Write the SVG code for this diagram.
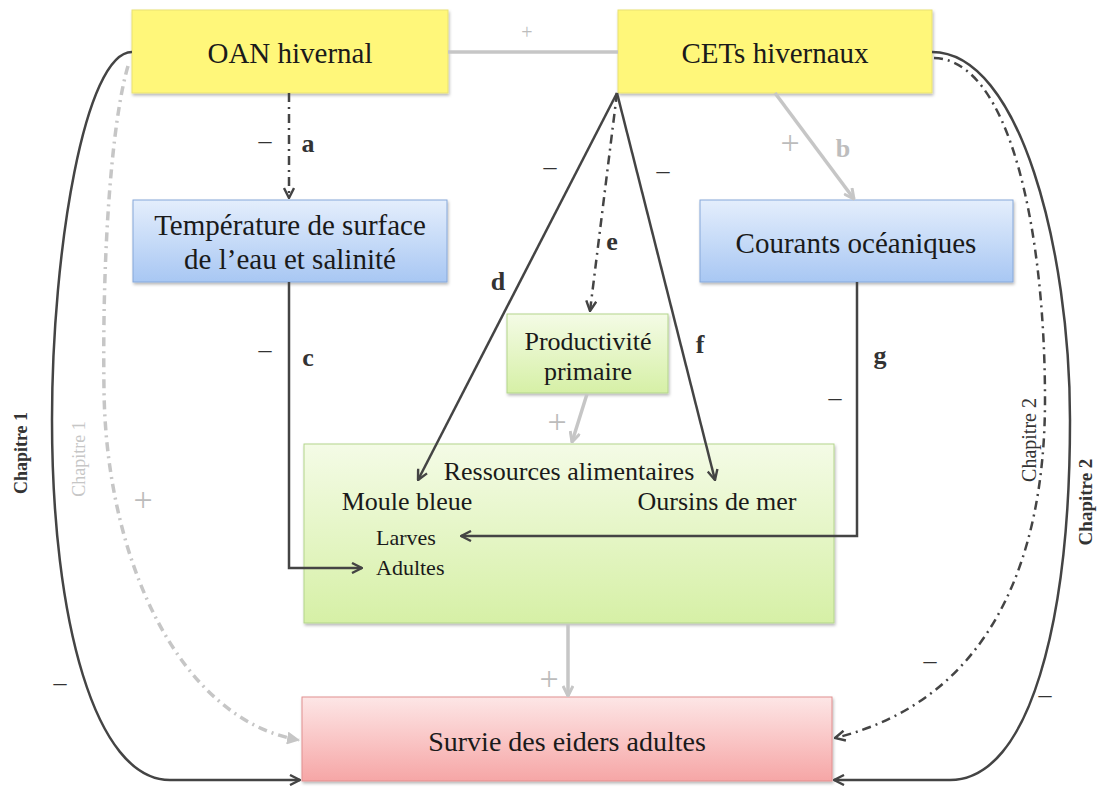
<svg xmlns="http://www.w3.org/2000/svg" width="1099" height="789" viewBox="0 0 1099 789">
<defs>
<style>
.t{font-family:"Liberation Serif","Times New Roman",serif;fill:#1a1a1a;text-anchor:middle}
.lbl{font-family:"Liberation Serif","Times New Roman",serif;font-weight:bold;font-size:26px;fill:#333;text-anchor:middle}
.minus{font-family:"Liberation Serif","Times New Roman",serif;font-size:26px;fill:#333;text-anchor:middle}
.plus{font-family:"Liberation Serif","Times New Roman",serif;fill:#bcbcbc;text-anchor:middle}
.ln{fill:none;stroke:#444;stroke-width:2.5}
.gl{fill:none;stroke:#c6c6c6;stroke-width:3.5}
.dd{stroke-dasharray:9 5 2 5}
.box{stroke-width:1}
</style>
<filter id="sh" x="-5%" y="-10%" width="110%" height="125%">
<feDropShadow dx="1" dy="2" stdDeviation="1.5" flood-color="#000" flood-opacity="0.28"/>
</filter>
<linearGradient id="gBlue" x1="0" y1="0" x2="0" y2="1"><stop offset="0" stop-color="#e4eefc"/><stop offset="1" stop-color="#a8c7f3"/></linearGradient>
<linearGradient id="gGreen" x1="0" y1="0" x2="0" y2="1"><stop offset="0" stop-color="#f4fbe6"/><stop offset="1" stop-color="#d6f0a6"/></linearGradient>
<linearGradient id="gRed" x1="0" y1="0" x2="0" y2="1"><stop offset="0" stop-color="#fde6e6"/><stop offset="1" stop-color="#f6a6a6"/></linearGradient>
<marker id="ah" viewBox="0 0 12 12" refX="11" refY="6" markerWidth="12" markerHeight="12" markerUnits="userSpaceOnUse" orient="auto"><path d="M1,1 L11,6 L1,11" fill="none" stroke="#444" stroke-width="2.4"/></marker>
<marker id="ahg" viewBox="0 0 12 12" refX="11" refY="6" markerWidth="12" markerHeight="12" markerUnits="userSpaceOnUse" orient="auto"><path d="M1,1 L11,6 L1,11" fill="none" stroke="#c6c6c6" stroke-width="3"/></marker>
<marker id="ahgf" viewBox="0 0 12 12" refX="11" refY="6" markerWidth="13" markerHeight="13" markerUnits="userSpaceOnUse" orient="auto"><path d="M0,0 L12,6 L0,12 z" fill="#c6c6c6"/></marker>
</defs>
<rect width="1099" height="789" fill="#ffffff"/>

<g id="oan">
<rect x="132" y="10" width="316" height="83" fill="#fff77a" stroke="#e9e173" class="box" filter="url(#sh)"/>
<text class="t" x="290" y="63" font-size="29">OAN hivernal</text>
</g>
<g id="cets">
<rect x="618" y="10" width="314" height="83" fill="#fff77a" stroke="#e9e173" class="box" filter="url(#sh)"/>
<text class="t" x="775" y="63" font-size="29">CETs hivernaux</text>
</g>
<g id="temperature">
<rect x="133" y="200" width="314" height="82" fill="url(#gBlue)" stroke="#86a8da" class="box" filter="url(#sh)"/>
<text class="t" x="290" y="235" font-size="29">Température de surface</text>
<text class="t" x="290" y="269" font-size="29">de l’eau et salinité</text>
</g>
<g id="courants">
<rect x="700" y="200" width="313" height="82" fill="url(#gBlue)" stroke="#86a8da" class="box" filter="url(#sh)"/>
<text class="t" x="856" y="253" font-size="29">Courants océaniques</text>
</g>
<g id="productivite">
<rect x="507" y="314" width="161" height="79" fill="url(#gGreen)" stroke="#b3d58c" class="box" filter="url(#sh)"/>
<text class="t" x="588" y="350" font-size="26">Productivité</text>
<text class="t" x="588" y="380" font-size="26">primaire</text>
</g>
<g id="ressources">
<rect x="304" y="444" width="530" height="179" fill="url(#gGreen)" stroke="#b3d58c" class="box" filter="url(#sh)"/>
<text class="t" x="569" y="480" font-size="26">Ressources alimentaires</text>
<text class="t" x="407" y="510" font-size="26">Moule bleue</text>
<text class="t" x="717" y="510" font-size="26">Oursins de mer</text>
<text class="t" x="376" y="545" font-size="22" style="text-anchor:start">Larves</text>
<text class="t" x="376" y="575" font-size="22" style="text-anchor:start">Adultes</text>
</g>
<g id="survie">
<rect x="302" y="697" width="530" height="84" fill="url(#gRed)" stroke="#e28f8f" class="box" filter="url(#sh)"/>
<text class="t" x="567" y="751" font-size="28">Survie des eiders adultes</text>
</g>

<g id="connectors">
<path class="gl" d="M448,52 L618,52" stroke-width="4"/>
<path class="ln dd" d="M289,93 L289,198" marker-end="url(#ah)"/>
<path class="gl" d="M775,93 L854,199" marker-end="url(#ahg)"/>
<path class="ln" d="M289,282 L289,568 L362,568" marker-end="url(#ah)"/>
<path class="ln" d="M857,282 L857,536 L461,536" marker-end="url(#ah)"/>
<path class="ln" d="M617,93 L418,480" marker-end="url(#ah)"/>
<path class="ln" d="M617,93 L715,480" marker-end="url(#ah)"/>
<path class="ln dd" d="M617,93 L590,311" marker-end="url(#ah)"/>
<path class="gl" d="M587,394 L572,442" marker-end="url(#ahg)"/>
<path class="gl" d="M568,624 L568,696" marker-end="url(#ahg)"/>
<path class="ln" d="M132,52 C85,52 52,250 52,420 C52,620 95,780 170,780 L300,780" marker-end="url(#ah)"/>
<path class="gl dd" d="M128,66 C112,120 102,250 104,390 C106,560 180,720 299,740" stroke-width="4" marker-end="url(#ahgf)"/>
<path class="ln" d="M932,52 C1020,52 1070,250 1070,420 C1070,620 1030,780 950,780 L834,780" marker-end="url(#ah)"/>
<path class="ln dd" d="M934,58 C1010,60 1045,230 1045,400 C1045,560 990,700 835,738" marker-end="url(#ah)"/>
</g>

<g id="labels">
<text class="plus" x="527" y="39" font-size="20">+</text>
<text class="minus" x="265" y="149">–</text>
<text class="lbl" x="308" y="152">a</text>
<text class="plus" x="790" y="154" font-size="34">+</text>
<text class="lbl" x="843" y="157" style="fill:#bdbdbd">b</text>
<text class="minus" x="265" y="358">–</text>
<text class="lbl" x="308" y="366">c</text>
<text class="minus" x="550" y="175">–</text>
<text class="lbl" x="498" y="290">d</text>
<text class="lbl" x="612" y="250">e</text>
<text class="minus" x="663" y="179">–</text>
<text class="lbl" x="700" y="353">f</text>
<text class="lbl" x="880" y="364">g</text>
<text class="minus" x="835" y="406">–</text>
<text class="plus" x="557" y="433" font-size="34">+</text>
<text class="plus" x="549" y="690" font-size="34">+</text>
<text class="plus" x="143" y="511" font-size="34">+</text>
<text class="minus" x="60" y="691">–</text>
<text class="minus" x="930" y="669">–</text>
<text class="minus" x="1045" y="703">–</text>
<text class="t" transform="rotate(-90 27 453)" x="27" y="453" font-size="18" font-weight="bold" style="fill:#333">Chapitre 1</text>
<text class="t" transform="rotate(-90 85 459)" x="85" y="459" font-size="18" style="fill:#c6c6c6">Chapitre 1</text>
<text class="t" transform="rotate(-90 1036 440)" x="1036" y="440" font-size="20" style="fill:#333">Chapitre 2</text>
<text class="t" transform="rotate(-90 1092 502)" x="1092" y="502" font-size="19" font-weight="bold" style="fill:#333">Chapitre 2</text>
</g>
</svg>
